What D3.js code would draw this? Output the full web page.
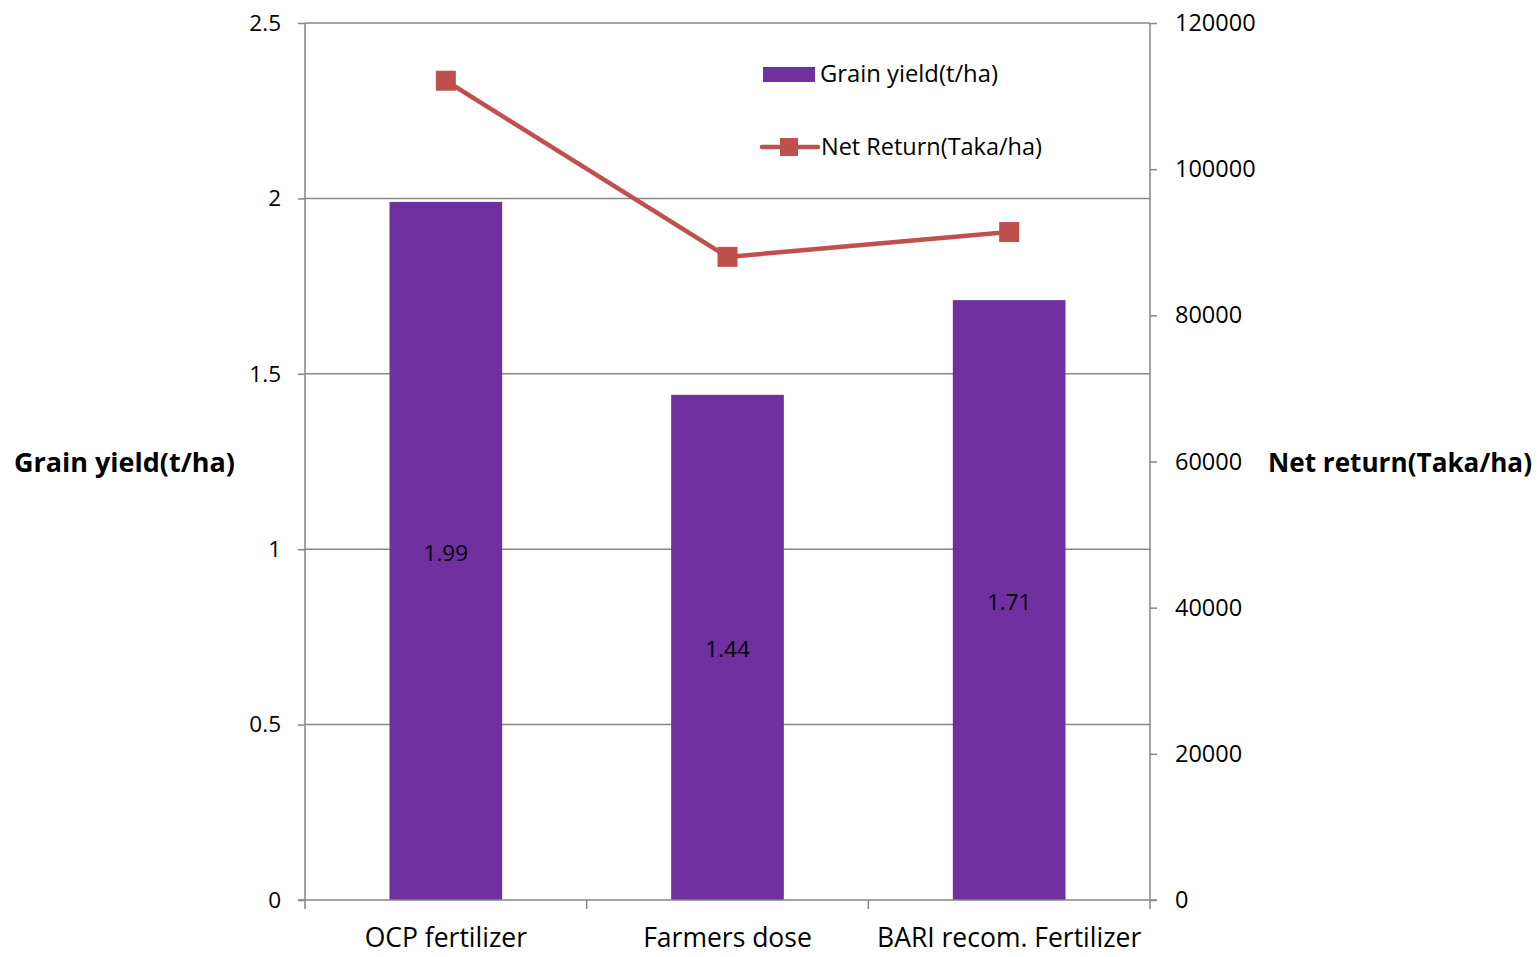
<!DOCTYPE html>
<html><head><meta charset="utf-8">
<script src="https://cdn.jsdelivr.net/npm/d3@7"></script>
<style>body{margin:0;background:#fff}svg{display:block}text{font-family:"Open Sans",sans-serif;fill:#000}</style>
</head><body><svg id="c" width="1538" height="957"></svg>
<script>
const categories = ["OCP fertilizer","Farmers dose","BARI recom. Fertilizer"];
const grainYield = [1.99,1.44,1.71];
const netReturn = [112100,88000,91400];
const leftTicks = [0,0.5,1,1.5,2,2.5];
const rightTicks = [0,20000,40000,60000,80000,100000,120000];

const svg = d3.select("#c");
const FONT = "'Open Sans',sans-serif";
const L=305,R=1150,T=23,B=900;
const x = d3.scaleBand().domain(categories).range([L,R]).padding(0);
const yL = d3.scaleLinear().domain([0,2.5]).range([B,T]);
const yR = d3.scaleLinear().domain([0,120000]).range([B,T]);
const grey="#868686", purple="#7030A0", red="#C0504D";

function fit(sel, target){
  sel.each(function(){
    const fs = parseFloat(this.getAttribute("font-size"));
    const w = this.getComputedTextLength();
    if (w>0) this.setAttribute("font-size", (fs*target/w).toFixed(2));
  });
}

// gridlines
svg.append("g").selectAll("line").data(leftTicks.filter(d=>d>0)).join("line")
  .attr("x1",L).attr("x2",R).attr("y1",d=>yL(d)).attr("y2",d=>yL(d))
  .attr("stroke",grey).attr("stroke-width",1.5);

// bars
const bw = x.bandwidth()*0.4;
svg.append("g").selectAll("rect").data(grainYield).join("rect")
  .attr("x",(d,i)=>x(categories[i])+x.bandwidth()/2-bw/2).attr("width",bw)
  .attr("y",d=>yL(d)).attr("height",d=>B-yL(d)).attr("fill",purple);
svg.append("g").selectAll("text").data(grainYield).join("text")
  .attr("x",(d,i)=>x(categories[i])+x.bandwidth()/2).attr("y",d=>(yL(d)+B)/2+4)
  .attr("text-anchor","middle").attr("dominant-baseline","middle").attr("font-size",22.5)
  .text(d=>d.toFixed(2));

// axes
const axL = d3.axisLeft(yL).tickValues(leftTicks).tickSize(7).tickPadding(17).tickFormat(d=>String(d));
const gL = svg.append("g").attr("transform",`translate(${L},0)`).call(axL);
const axR = d3.axisRight(yR).tickValues(rightTicks).tickSize(7).tickPadding(18).tickFormat(d=>String(d));
const gR = svg.append("g").attr("transform",`translate(${R},0)`).call(axR);
const axB = d3.axisBottom(x).tickSize(0).tickPadding(28);
const gB = svg.append("g").attr("transform",`translate(0,${B})`).call(axB);
[gL,gR,gB].forEach(g=>{
  g.attr("font-family",FONT).attr("font-size",null);
  g.selectAll("path.domain").attr("stroke",grey).attr("stroke-width",1.5);
  g.selectAll(".tick line").attr("stroke",grey).attr("stroke-width",1.5);
  g.selectAll("text").attr("font-size",22.5).attr("fill","#000");
});
gR.selectAll(".tick text").attr("font-size",23.5);
gL.select("path.domain").attr("d",`M0,${T}V${B}`);
gR.select("path.domain").attr("d",`M0,${T}V${B}`);
gB.select("path.domain").attr("d",`M${L-7},0H${R+7}`);
gB.selectAll(".tick text").attr("font-size",26.5);
// category separator ticks
const sep = categories.map(c=>x(c)).concat([R]);
gB.append("g").selectAll("line").data(sep).join("line")
  .attr("x1",d=>d).attr("x2",d=>d).attr("y1",0).attr("y2",9)
  .attr("stroke",grey).attr("stroke-width",1.5);

// line
const pts = netReturn.map((v,i)=>[x(categories[i])+x.bandwidth()/2,yR(v)]);
svg.append("path").attr("d",d3.line()(pts)).attr("fill","none").attr("stroke",red).attr("stroke-width",4.5);
svg.append("g").selectAll("rect").data(pts).join("rect")
  .attr("x",d=>d[0]-10).attr("y",d=>d[1]-10).attr("width",20).attr("height",20).attr("fill",red);

// axis titles
svg.append("text").attr("x",14).attr("y",465).attr("dominant-baseline","middle")
  .attr("font-size",24).attr("font-weight","bold").text("Grain yield(t/ha)").call(fit,221);
svg.append("text").attr("x",1268).attr("y",465).attr("dominant-baseline","middle")
  .attr("font-size",24).attr("font-weight","bold").text("Net return(Taka/ha)").call(fit,264);

// legend
const lg = svg.append("g");
lg.append("rect").attr("x",763).attr("y",67).attr("width",52).attr("height",15).attr("fill",purple);
lg.append("text").attr("x",820).attr("y",76).attr("dominant-baseline","middle").attr("font-size",22).text("Grain yield(t/ha)").call(fit,178);
lg.append("line").attr("x1",762).attr("x2",818).attr("y1",147).attr("y2",147).attr("stroke",red).attr("stroke-width",4.5).attr("stroke-linecap","round");
lg.append("rect").attr("x",780).attr("y",138).attr("width",18).attr("height",18).attr("fill",red);
lg.append("text").attr("x",821).attr("y",149).attr("dominant-baseline","middle").attr("font-size",22).text("Net Return(Taka/ha)").call(fit,221);
</script></body></html>
